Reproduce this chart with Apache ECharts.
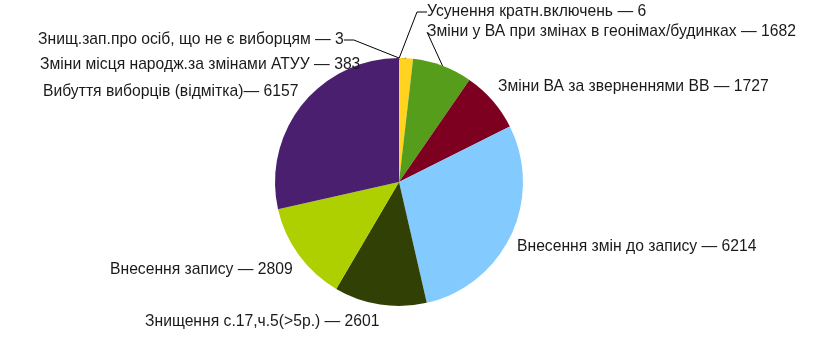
<!DOCTYPE html>
<html><head><meta charset="utf-8">
<script src="https://cdn.jsdelivr.net/npm/echarts@6/dist/echarts.min.js"></script>
<style>html,body{margin:0;padding:0;background:#fff}#c{width:819px;height:351px}</style>
</head><body><div id="c"></div>
<script>
// Data (clockwise from 12 o'clock)
const categories = [
  "Знищ.зап.про осіб, що не є виборцям",
  "Усунення кратн.включень",
  "Зміни місця народж.за змінами АТУУ",
  "Зміни у ВА при змінах в геонімах/будинках",
  "Зміни ВА за зверненнями ВВ",
  "Внесення змін до запису",
  "Знищення с.17,ч.5(>5р.)",
  "Внесення запису",
  "Вибуття виборців (відмітка)"
];
const values = [3, 6, 383, 1682, 1727, 6214, 2601, 2809, 6157];
const separators = [" — ", " — ", " — ", " — ", " — ", " — ", " — ", " — ", "— "];

// Styles / layout (kept separate from data)
const colors = ["#004586","#ff420e","#ffd320","#579d1c","#7e0021","#83caff","#314004","#aecf00","#4b1f6f"];
const labelPos = [
  [38, 40], [427, 12], [40, 65], [427, 32], [498, 87], [517, 247], [145, 322], [110, 270], [43, 92]
];
const showLine = [true, true, true, true, false, false, false, false, false];

const chart = echarts.init(document.getElementById('c'), null, {renderer: 'canvas'});
chart.setOption({
  animation: false,
  backgroundColor: '#ffffff',
  series: [{
    type: 'pie',
    center: [399, 182],
    radius: 124,
    startAngle: 90,
    clockwise: true,
    avoidLabelOverlap: false,
    minShowLabelAngle: 0,
    itemStyle: {borderWidth: 0},
    emphasis: {disabled: true},
    label: {
      show: true,
      position: 'outside',
      fontFamily: 'Liberation Sans, Arial, sans-serif',
      fontSize: 15.7,
      color: '#1a1a1a',
      formatter: p => categories[p.dataIndex] + separators[p.dataIndex] + values[p.dataIndex]
    },
    labelLine: {show: true, length: 10, length2: 10, lineStyle: {color: '#000', width: 1}},
    labelLayout: function (params) {
      const pos = labelPos[params.dataIndex];
      return {x: pos[0], y: pos[1], align: 'left', verticalAlign: 'middle', moveOverlap: null};
    },
    data: values.map((v, i) => ({
      name: categories[i],
      value: v,
      itemStyle: {color: colors[i]},
      labelLine: {show: showLine[i]}
    }))
  }]
});
</script></body></html>
